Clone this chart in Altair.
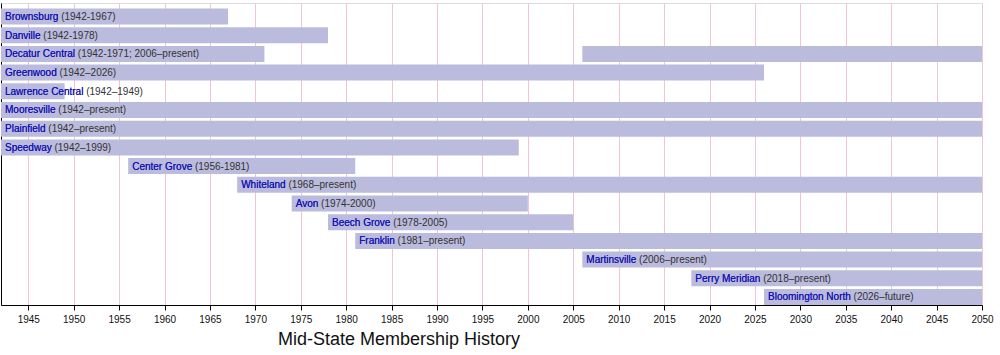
import altair as alt
import pandas as pd

# Row order (top to bottom)
schools = [
    "Brownsburg", "Danville", "Decatur Central", "Greenwood", "Lawrence Central",
    "Mooresville", "Plainfield", "Speedway", "Center Grove", "Whiteland", "Avon",
    "Beech Grove", "Franklin", "Martinsville", "Perry Meridian", "Bloomington North",
]
periods = [
    "(1942-1967)", "(1942-1978)", "(1942-1971; 2006–present)", "(1942–2026)",
    "(1942–1949)", "(1942–present)", "(1942–present)", "(1942–1999)",
    "(1956-1981)", "(1968–present)", "(1974-2000)", "(1978-2005)",
    "(1981–present)", "(2006–present)", "(2018–present)", "(2026–future)",
]

# Membership bars ("present"/"future" drawn to 2050)
bar_school = [
    "Brownsburg", "Danville", "Decatur Central", "Decatur Central", "Greenwood",
    "Lawrence Central", "Mooresville", "Plainfield", "Speedway", "Center Grove",
    "Whiteland", "Avon", "Beech Grove", "Franklin", "Martinsville",
    "Perry Meridian", "Bloomington North",
]
bar_start = [1942, 1942, 1942, 2006, 1942, 1942, 1942, 1942, 1942, 1956,
             1968, 1974, 1978, 1981, 2006, 2018, 2026]
bar_end = [1967, 1978, 1971, 2050, 2026, 1949, 2050, 2050, 1999, 1981,
           2050, 2000, 2005, 2050, 2050, 2050, 2050]

# label start year = first start of each school
label_start = [1942, 1942, 1942, 1942, 1942, 1942, 1942, 1942, 1956, 1968,
               1974, 1978, 1981, 2006, 2018, 2026]

year_ticks = list(range(1945, 2051, 5))

bars_df = pd.DataFrame({"school": bar_school, "start": bar_start, "end": bar_end})
labels_df = pd.DataFrame({
    "school": schools,
    "start": label_start,
    "full": [f"{s} {p}" for s, p in zip(schools, periods)],
})

FONT = "Liberation Sans"

x_scale = alt.Scale(domain=[1942, 2050], nice=False, zero=False)
y_scale = alt.Scale(domain=schools, paddingInner=0.144, paddingOuter=0.147, align=1)

x_axis = alt.Axis(
    values=year_ticks, format="d", title=None,
    grid=True, gridColor="#f2c4d2", gridWidth=1,
    domainColor="black", domainWidth=1,
    tickColor="black", tickSize=5,
    labelFont=FONT, labelFontSize=10, labelColor="#111111",
    labelPadding=4, labelFlush=False,
)
y_axis = alt.Axis(
    title=None, labels=False, ticks=False, grid=False,
    domainColor="black", domainWidth=1,
)

bars = alt.Chart(bars_df).mark_bar(color="#bbbbdd", cornerRadius=0).encode(
    x=alt.X("start:Q", scale=x_scale, axis=x_axis),
    x2="end:Q",
    y=alt.Y("school:N", scale=y_scale, axis=y_axis, sort=schools),
)

full_text = alt.Chart(labels_df).mark_text(
    align="left", baseline="middle", dx=4, dy=0.5,
    font=FONT, fontSize=10, color="#333333",
).encode(
    x=alt.X("start:Q", scale=x_scale),
    y=alt.Y("school:N", scale=y_scale, sort=schools),
    text="full:N",
)

name_text = alt.Chart(labels_df).mark_text(
    align="left", baseline="middle", dx=4, dy=0.5,
    font=FONT, fontSize=10, color="#1010dd",
).encode(
    x=alt.X("start:Q", scale=x_scale),
    y=alt.Y("school:N", scale=y_scale, sort=schools),
    text="school:N",
)

chart = alt.layer(bars, full_text, name_text).properties(
    width=981,
    height=302,
    autosize=alt.AutoSizeParams(type="none"),
    padding={"left": 1, "top": 3, "right": 18, "bottom": 50},
    title=alt.TitleParams(
        text="Mid-State Membership History",
        orient="bottom", anchor="start", dx=277, offset=7,
        font=FONT, fontSize=18, fontWeight="normal", color="#111111",
    ),
).configure_view(stroke=None).configure(background="white")

chart.save("out.html", embed_options={"renderer": "svg", "actions": False})
